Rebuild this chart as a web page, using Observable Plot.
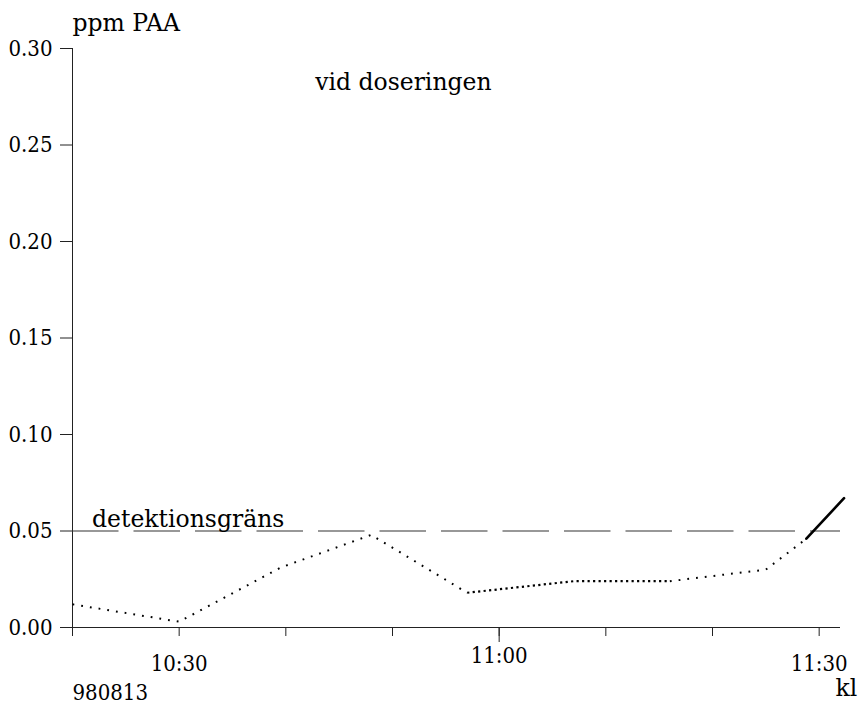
<!DOCTYPE html>
<html>
<head>
<meta charset="utf-8">
<script src="https://cdn.jsdelivr.net/npm/d3@7"></script>
<script src="https://cdn.jsdelivr.net/npm/@observablehq/plot@0.6"></script>
<style>
  html, body { margin: 0; padding: 0; background: #fff; }
  #chart svg { display: block; }
</style>
</head>
<body>
<div id="chart"></div>
<script>
// ---- data ----
const times  = ["10:20:00", "10:30:00", "10:39:30", "10:48:00", "10:57:00", "11:07:00", "11:16:00", "11:25:00", "11:28:48"];
const values = [0.012, 0.003, 0.031, 0.048, 0.018, 0.024, 0.024, 0.030, 0.046];
const solidTimes  = ["11:28:48", "11:32:20"];
const solidValues = [0.046, 0.067];
const detectionLimit = 0.05;
const yTicks = [0, 0.05, 0.10, 0.15, 0.20, 0.25, 0.30];
const xTickTimes = ["10:20", "10:30", "10:40", "10:50", "11:00", "11:10", "11:20", "11:30"];
const xLabelTimesLow = ["10:30", "11:30"];
const xMajorTime = "11:00";
const domainTimes = ["10:20", "11:32"];

const t = s => new Date(`1998-08-13T${s.length === 5 ? s + ":00" : s}Z`);

const rows = times.map((s, i) => ({ time: t(s), value: values[i] }));
// sparse dotted parts and a denser dotted middle part
const sparse = [
  ...rows.slice(0, 5).map(d => ({ ...d, seg: "a" })),
  ...rows.slice(6).map(d => ({ ...d, seg: "c" }))
];
const dense = rows.slice(4, 7);
const solid = solidTimes.map((s, i) => ({ time: t(s), value: solidValues[i] }));

const word = { fontSize: 23.5, fontFamily: "DejaVu Serif", fill: "#000" };
const num  = { fontSize: 22, fontFamily: "DejaVu Serif Condensed", fill: "#000" };

const chart = Plot.plot({
  width: 862,
  height: 707,
  marginLeft: 72,
  marginRight: 22,
  marginTop: 48,
  marginBottom: 80,
  style: { fontFamily: "DejaVu Serif", fontSize: "22px", background: "#fff", color: "#000", overflow: "visible" },
  x: { type: "utc", domain: domainTimes.map(t) },
  y: { domain: [0, 0.30] },
  marks: [
    // y axis
    Plot.axisY({ ticks: yTicks, tickSize: 12, tickPadding: 8, tickFormat: d3.format(".2f"), label: null, stroke: "#222", ...num }),
    Plot.ruleX([t(domainTimes[0])], { y1: 0, y2: 0.30, stroke: "#222" }),
    // x axis
    Plot.ruleY([0], { stroke: "#222" }),
    Plot.axisX({ ticks: xTickTimes.map(t), tickSize: 9, tickFormat: () => "", label: null, stroke: "#222" }),
    Plot.axisX({ ticks: [t(xMajorTime)], tickSize: 15, tickFormat: () => "", label: null, stroke: "#222" }),
    Plot.text(xLabelTimesLow, { x: d => t(d), y: 0, text: d => d, dy: 36, ...num }),
    Plot.text([xMajorTime], { x: d => t(d), y: 0, text: d => d, dy: 28, ...num }),
    // detection limit
    Plot.ruleY([detectionLimit], { stroke: "#333", strokeWidth: 1.1, strokeDasharray: "46.5,15" }),
    Plot.text(["detektionsgräns"], { x: t("10:21:50"), y: detectionLimit, text: d => d, textAnchor: "start", dy: -12, ...word }),
    // measurements
    Plot.line(sparse, { x: "time", y: "value", z: "seg", stroke: "#000", strokeWidth: 2, strokeDasharray: "1.8,7", strokeLinecap: "butt" }),
    Plot.line(dense, { x: "time", y: "value", stroke: "#000", strokeWidth: 2.2, strokeDasharray: "2.2,3.3", strokeLinecap: "butt" }),
    Plot.line(solid, { x: "time", y: "value", stroke: "#000", strokeWidth: 2.6, clip: false }),
    // annotations
    Plot.text(["ppm PAA"], { x: t(domainTimes[0]), y: 0.30, text: d => d, textAnchor: "start", dy: -25, ...word }),
    Plot.text(["vid doseringen"], { x: t("10:42:45"), y: 0.2825, text: d => d, textAnchor: "start", ...word }),
    Plot.text(["980813"], { x: t(domainTimes[0]), y: 0, text: d => d, textAnchor: "start", dy: 65, ...num }),
    Plot.text(["kl"], { x: t(domainTimes[1]), y: 0, text: d => d, textAnchor: "start", dx: -5, dy: 61, ...word })
  ]
});

document.getElementById("chart").appendChild(chart);
</script>
</body>
</html>
